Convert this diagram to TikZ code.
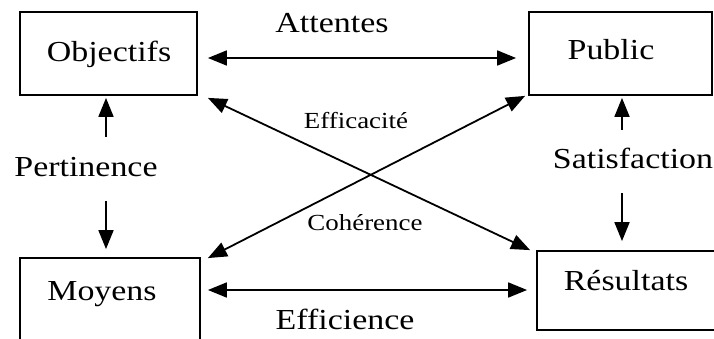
\documentclass[tikz,border=0pt]{standalone}
\usepackage{fontspec}
\setmainfont{Liberation Serif}
\usetikzlibrary{arrows.meta,calc}
\newcommand{\widetext}[1]{\scalebox{1.17}[1]{#1}}
\tikzset{
  box/.style={draw, line width=1.8pt, rectangle, inner sep=0pt},
  word/.style={inner sep=0pt, anchor=base, font=\fontsize{29}{32}\selectfont},
  smallword/.style={inner sep=0pt, anchor=base, font=\fontsize{23}{26}\selectfont},
  link/.style={line width=1.8pt, -{Triangle[length=19pt,width=15pt]}},
  twoway/.style={line width=1.8pt, {Triangle[length=19pt,width=15pt]}-{Triangle[length=19pt,width=15pt]}}
}
\begin{document}
\begin{tikzpicture}[x=1pt,y=-1pt]
  \useasboundingbox (0,0) rectangle (714,339);

  % the four boxes
  \node[box, minimum width=177pt, minimum height=83pt] (obj) at (108.5,53.5) {};
  \node[box, minimum width=183pt, minimum height=83pt] (pub) at (620.5,53.5) {};
  \node[box, minimum width=180pt, minimum height=87pt] (moy) at (110,301.5) {};
  \node[box, minimum width=183pt, minimum height=79pt] (res) at (628.5,290.5) {};

  % box titles
  \node[word] (tobj) at (109,62) {\widetext{Objectifs}};
  \node[word] (tpub) at (611,60) {\widetext{Public}};
  \node[word] (tmoy) at (102,300) {\widetext{Moyens}};
  \node[word] (tres) at (626,290) {\widetext{Résultats}};

  % relation labels
  \node[word] (latt) at (332,33) {\widetext{Attentes}};
  \node[word] (leff) at (345,329) {\widetext{Efficience}};
  \node[word] (lper) at (86,177) {\widetext{Pertinence}};
  \node[word] (lsat) at (633,169) {\widetext{Satisfaction}};
  \node[smallword] (lefc) at (356,129) {\widetext{Efficacité}};
  \node[smallword] (lcoh) at (365,230) {\widetext{Cohérence}};

  % free ends of the vertical arrows
  \coordinate (pertop) at (106,137);
  \coordinate (perbot) at (106,201);
  \coordinate (sattop) at (622,130);
  \coordinate (satbot) at (622,193);

  % horizontal relations
  \draw[twoway] ([shift={(10,4.5)}]obj.east) -- ([shift={(-12,4.5)}]pub.west);
  \draw[twoway] ([shift={(7,-11.5)}]moy.east) -- ([shift={(-9,-0.5)}]res.west);

  % crossing relations
  \draw[twoway] ([shift={(10,2)}]obj.south east) -- ([shift={(-6,0)}]res.north west);
  \draw[twoway] ([shift={(-3,0)}]pub.south west) -- ([shift={(7,1)}]moy.north east);

  % vertical relations
  \draw[link] (pertop) -- ([shift={(-2.5,2)}]obj.south);
  \draw[link] (perbot) -- ([shift={(-4,-8)}]moy.north);
  \draw[link] (sattop) -- ([shift={(1.5,2)}]pub.south);
  \draw[link] (satbot) -- ([shift={(-6.5,-9)}]res.north);
\end{tikzpicture}
\end{document}
